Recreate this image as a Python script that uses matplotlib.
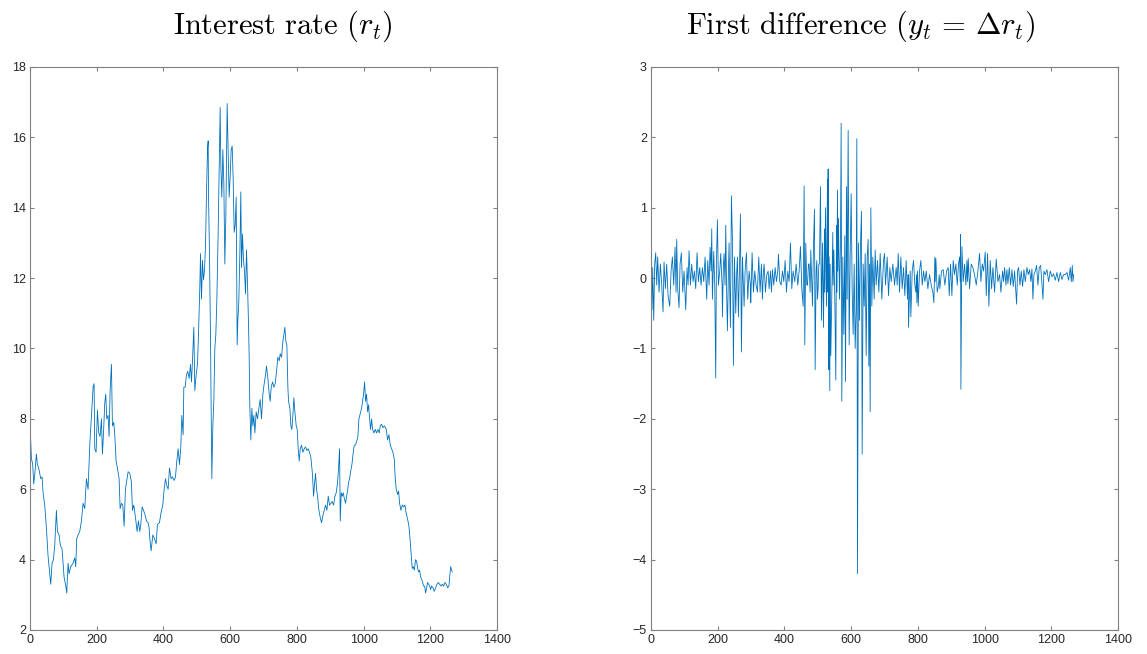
import matplotlib
matplotlib.use("Agg")
import matplotlib.pyplot as plt

plt.rcParams["mathtext.fontset"] = "cm"
plt.rcParams["font.family"] = ["Liberation Sans", "DejaVu Sans"]

LINE = "#0072BD"
AXIS = "#808080"
TEXT = "#262626"

# (t, r_t)
rate_obs = [
    (0, 7.86), (4, 6.88), (8, 6.7), (11, 6.15), (14, 6.4), (19, 7.0), (22, 6.7), (26, 6.6),
    (32, 6.3), (36, 6.35), (39, 5.9), (44, 5.55), (49, 4.9), (54, 4.1), (59, 3.6), (62, 3.3),
    (66, 3.9), (70, 4.0), (74, 4.4), (79, 5.4), (82, 4.8), (87, 4.7), (91, 4.4), (96, 4.3),
    (102, 3.5), (107, 3.26), (110, 3.05), (114, 3.9), (117, 3.6), (122, 3.8), (129, 3.9),
    (134, 4.05), (137, 3.8), (140, 4.6), (144, 4.7), (149, 4.8), (154, 5.1), (159, 5.6),
    (164, 5.45), (169, 6.3), (174, 6.0), (179, 7.25), (184, 8.1), (189, 8.9), (192, 9.0),
    (194, 7.15), (198, 7.05), (202, 8.25), (206, 7.6), (210, 7.5), (214, 8.0), (217, 7.0),
    (220, 7.55), (224, 8.45), (227, 8.7), (230, 8.0), (234, 8.1), (237, 7.5), (240, 8.8),
    (244, 9.55), (247, 7.8), (251, 7.9), (254, 7.55), (258, 6.8), (262, 6.6), (267, 6.3),
    (270, 5.45), (274, 5.6), (278, 5.55), (282, 4.95), (286, 6.0), (290, 6.25), (294, 6.5),
    (299, 6.45), (304, 6.2), (307, 5.4), (311, 5.55), (316, 5.2), (321, 4.8), (325, 5.1),
    (329, 4.8), (332, 5.0), (336, 5.5), (340, 5.4), (344, 5.3), (349, 5.1), (354, 5.05),
    (357, 4.9), (360, 4.5), (363, 4.25), (368, 4.7), (373, 4.6), (378, 4.45), (382, 5.0),
    (388, 5.05), (393, 5.35), (398, 5.55), (402, 6.0), (406, 6.3), (410, 6.1), (414, 6.0),
    (418, 6.6), (423, 6.3), (427, 6.35), (432, 6.25), (436, 6.35), (440, 6.8), (444, 7.15),
    (448, 6.7), (452, 7.2), (455, 8.1), (459, 7.55), (461, 8.9), (465, 8.9), (469, 9.25),
    (473, 9.35), (477, 9.15), (481, 9.55), (484, 9.05), (487, 9.65), (491, 10.6), (494, 8.8),
    (498, 9.25), (502, 9.55), (505, 10.4), (509, 11.75), (511, 12.7), (514, 11.4), (517, 12.5),
    (520, 11.95), (523, 12.2), (526, 12.9), (529, 14.4), (532, 15.65), (534, 15.9), (535, 14.4),
    (538, 12.7), (541, 10.3), (545, 6.3), (548, 7.8), (551, 8.5), (554, 10.0), (557, 10.4),
    (560, 11.35), (564, 13.3), (567, 15.0), (570, 16.85), (572, 15.2), (575, 14.3), (578, 15.65),
    (581, 14.7), (584, 12.4), (587, 13.75), (591, 16.96), (594, 15.55), (597, 14.3), (600, 14.9),
    (603, 15.65), (606, 15.75), (609, 14.8), (612, 13.3), (615, 13.5), (618, 14.3), (621, 10.1),
    (623, 10.8), (626, 11.35), (629, 12.7), (632, 14.45), (634, 12.3), (637, 13.25), (640, 12.5),
    (643, 12.2), (646, 11.55), (649, 12.8), (652, 11.85), (655, 10.7), (657, 9.75), (659, 8.3),
    (662, 7.4), (665, 8.3), (668, 7.8), (671, 8.1), (674, 7.6), (678, 8.2), (682, 8.0),
    (686, 8.3), (690, 8.55), (694, 8.0), (698, 8.7), (702, 9.0), (706, 9.25), (709, 9.5),
    (713, 9.15), (717, 8.7), (720, 8.5), (723, 8.9), (727, 9.05), (731, 8.9), (735, 9.0),
    (739, 9.35), (743, 9.75), (747, 9.65), (750, 9.85), (754, 9.75), (758, 10.2), (761, 10.4),
    (764, 10.6), (767, 10.2), (770, 10.1), (773, 8.9), (775, 8.5), (779, 8.3), (782, 7.8),
    (785, 7.7), (788, 8.1), (791, 8.6), (794, 8.2), (798, 7.8), (801, 7.7), (804, 7.15),
    (807, 6.8), (810, 7.15), (814, 7.25), (818, 7.05), (822, 7.15), (826, 7.2), (830, 7.1),
    (834, 7.15), (838, 7.05), (842, 6.9), (846, 6.5), (848, 6.2), (850, 5.8), (853, 6.15),
    (856, 6.45), (859, 6.0), (862, 5.8), (866, 5.4), (870, 5.2), (874, 5.05), (878, 5.25),
    (882, 5.4), (886, 5.55), (890, 5.4), (894, 5.8), (898, 5.55), (902, 5.6), (906, 5.65),
    (910, 5.55), (914, 5.8), (918, 5.9), (922, 6.2), (925, 6.6), (928, 7.15), (930, 5.1),
    (933, 5.9), (936, 5.8), (939, 5.9), (942, 5.75), (946, 5.6), (949, 5.8), (952, 5.95),
    (955, 6.2), (958, 6.3), (961, 6.5), (965, 6.7), (969, 7.05), (972, 7.25), (975, 7.25),
    (979, 7.35), (983, 7.5), (986, 8.0), (990, 8.15), (994, 8.3), (997, 8.5), (1000, 8.7),
    (1003, 9.05), (1006, 8.5), (1009, 8.7), (1012, 8.2), (1015, 8.4), (1018, 8.0), (1021, 7.7),
    (1024, 8.0), (1027, 7.7), (1031, 7.6), (1035, 7.7), (1039, 7.6), (1043, 7.7), (1047, 7.6),
    (1050, 7.8), (1054, 7.85), (1058, 7.75), (1062, 7.8), (1066, 7.75), (1068, 7.7), (1072, 7.4),
    (1076, 7.55), (1080, 7.25), (1084, 7.15), (1088, 7.05), (1092, 6.85), (1095, 6.3), (1098, 6.0),
    (1102, 5.85), (1105, 5.95), (1108, 5.6), (1112, 5.4), (1116, 5.55), (1120, 5.5), (1124, 5.55),
    (1128, 5.3), (1132, 5.15), (1136, 4.95), (1140, 4.5), (1143, 4.1), (1146, 3.75), (1149, 3.8),
    (1152, 3.7), (1156, 4.0), (1159, 3.95), (1162, 3.75), (1165, 3.65), (1168, 3.7), (1171, 3.5),
    (1174, 3.45), (1177, 3.35), (1180, 3.25), (1183, 3.25), (1186, 3.05), (1189, 3.2), (1192, 3.35),
    (1195, 3.3), (1198, 3.25), (1201, 3.15), (1204, 3.25), (1208, 3.2), (1212, 3.1), (1216, 3.2),
    (1220, 3.3), (1224, 3.35), (1228, 3.3), (1232, 3.25), (1236, 3.3), (1240, 3.25), (1244, 3.35),
    (1248, 3.3), (1252, 3.2), (1256, 3.25), (1258, 3.5), (1261, 3.8), (1264, 3.7), (1266, 3.65),
]

# (t, y_t)
diff_obs = [
    (0, 0.0), (3, -0.45), (5, 0.15), (8, -0.6), (11, 0.2), (14, 0.36), (17, -0.1), (20, 0.3),
    (24, -0.2), (28, 0.2), (32, -0.1), (36, -0.48), (39, 0.23), (43, -0.15), (47, 0.2),
    (51, -0.25), (56, -0.4), (60, 0.1), (64, 0.3), (68, -0.1), (72, 0.44), (75, -0.2), (77, 0.55),
    (80, -0.15), (84, -0.42), (87, 0.2), (91, 0.36), (95, -0.2), (99, 0.1), (104, -0.45),
    (108, 0.15), (111, -0.1), (114, 0.39), (118, -0.1), (122, 0.2), (126, -0.05), (130, 0.1),
    (134, -0.15), (138, 0.36), (142, -0.05), (146, 0.15), (150, -0.1), (154, 0.15), (158, -0.05),
    (162, 0.3), (167, -0.3), (170, 0.25), (174, -0.1), (177, 0.44), (180, 0.1), (182, 0.7),
    (184, -0.3), (188, 0.38), (191, -0.1), (194, -1.42), (196, 0.2), (199, 0.83), (202, -0.1),
    (206, 0.1), (209, 0.35), (213, -0.1), (214, -0.55), (217, 0.2), (219, 0.35), (222, -0.1),
    (224, 0.75), (227, -0.3), (229, -0.75), (232, 0.1), (234, 0.5), (236, -0.2), (238, -0.7),
    (241, 1.17), (244, 0.55), (247, -1.24), (250, 0.3), (252, -0.1), (254, -0.5), (257, 0.1),
    (259, 0.3), (262, -0.55), (265, 0.1), (268, 0.91), (271, -1.05), (274, 0.3), (277, -0.1),
    (279, -0.4), (282, 0.1), (286, 0.36), (290, -0.3), (294, 0.1), (298, -0.1), (299, -0.35),
    (303, 0.36), (307, -0.2), (311, 0.1), (315, -0.1), (319, -0.2), (323, 0.3), (327, -0.2),
    (331, 0.2), (334, -0.3), (337, 0.1), (339, 0.2), (343, -0.2), (347, 0.05), (351, 0.1),
    (354, -0.15), (358, 0.1), (361, -0.2), (364, 0.12), (368, -0.1), (372, 0.15), (376, -0.05),
    (380, 0.1), (382, 0.34), (386, -0.05), (390, -0.1), (394, 0.1), (398, -0.05), (402, 0.25),
    (406, -0.2), (410, 0.1), (414, -0.05), (418, 0.5), (422, -0.15), (426, 0.1), (431, -0.05),
    (435, 0.2), (440, -0.1), (444, 0.1), (448, 0.45), (452, -0.15), (456, -0.4), (459, 1.31),
    (461, -0.95), (464, 0.5), (467, -0.1), (469, -0.1), (472, 0.2), (474, 0.2), (477, -0.2),
    (479, 0.4), (482, -0.1), (484, -0.4), (487, 0.45), (490, 0.98), (492, -1.3), (495, 0.1),
    (497, 0.25), (499, -0.3), (501, -0.15), (503, 0.2), (505, 0.2), (508, 1.3), (511, -0.6),
    (514, 0.5), (517, -0.7), (520, 0.7), (521, -0.2), (523, 1.0), (526, -0.4), (529, 1.4),
    (530, -0.2), (531, 1.55), (533, -1.3), (534, 0.3), (536, -1.6), (537, 0.2), (539, -1.1),
    (542, -0.2), (545, 0.65), (546, -0.1), (548, 0.4), (551, -0.3), (554, -1.45), (556, 0.75),
    (557, -0.2), (559, 1.25), (560, 0.1), (562, 0.85), (565, -0.3), (568, 0.5), (570, 2.2),
    (572, -1.75), (575, 0.3), (578, -0.8), (581, 0.6), (583, -1.47), (586, 1.3), (588, -0.3),
    (591, 2.1), (594, -0.95), (597, 0.3), (600, 1.2), (603, -0.15), (606, -0.8), (609, 0.2),
    (612, -1.0), (615, -0.45), (617, 1.98), (619, -4.2), (622, 0.5), (625, -0.6), (628, 0.5),
    (631, 0.95), (633, -2.5), (636, 0.2), (639, -0.4), (642, 0.35), (645, -1.1), (648, 0.3),
    (651, 0.55), (653, -1.25), (655, 0.2), (657, -1.9), (659, 1.0), (662, -0.4), (665, 0.3),
    (669, -0.3), (672, 0.4), (675, -0.1), (679, 0.25), (683, -0.2), (687, 0.35), (692, -0.3),
    (697, 0.25), (700, 0.35), (703, -0.1), (708, 0.3), (712, -0.25), (716, 0.15), (720, -0.05),
    (725, 0.2), (730, -0.1), (735, 0.15), (738, -0.1), (741, 0.35), (745, -0.2), (749, 0.3),
    (753, -0.15), (757, 0.15), (761, -0.25), (765, 0.25), (769, -0.3), (771, 0.05), (772, -0.7),
    (775, -0.2), (777, 0.1), (779, -0.55), (783, 0.1), (787, 0.25), (791, -0.1), (794, -0.2),
    (796, 0.05), (797, -0.35), (799, 0.1), (801, -0.4), (805, 0.1), (809, 0.25), (813, -0.1),
    (817, 0.1), (821, -0.05), (825, 0.1), (830, -0.15), (835, 0.05), (840, -0.1), (845, -0.2),
    (848, -0.35), (851, 0.3), (852, -0.05), (854, 0.28), (858, -0.2), (862, -0.1), (864, 0.05),
    (866, -0.15), (871, 0.1), (876, 0.12), (881, -0.1), (886, 0.1), (891, 0.15), (894, -0.25),
    (898, 0.2), (902, -0.25), (906, 0.25), (910, 0.05), (914, 0.2), (918, -0.1), (922, 0.2),
    (925, 0.3), (927, -0.05), (928, 0.62), (929, -1.58), (932, 0.45), (936, -0.05), (940, 0.2),
    (944, -0.1), (947, 0.25), (949, -0.05), (951, 0.28), (955, -0.15), (960, 0.2), (965, 0.15),
    (970, 0.05), (975, -0.1), (980, 0.1), (985, 0.35), (989, -0.05), (993, 0.2), (997, 0.1),
    (1002, 0.37), (1005, -0.25), (1009, 0.35), (1013, -0.4), (1017, 0.25), (1021, -0.15),
    (1025, 0.15), (1030, -0.2), (1035, 0.27), (1040, -0.05), (1045, 0.05), (1049, -0.2),
    (1054, 0.1), (1057, -0.05), (1060, 0.15), (1064, -0.1), (1067, 0.12), (1070, -0.08),
    (1074, 0.15), (1078, -0.1), (1082, 0.12), (1086, -0.12), (1090, 0.1), (1094, -0.2),
    (1096, -0.37), (1099, 0.1), (1102, 0.15), (1106, -0.1), (1110, 0.1), (1114, -0.12),
    (1118, 0.12), (1122, -0.05), (1127, 0.15), (1131, 0.05), (1135, 0.12), (1139, -0.05),
    (1142, 0.13), (1145, -0.3), (1148, 0.05), (1152, 0.1), (1156, 0.18), (1160, -0.1),
    (1164, 0.15), (1168, 0.18), (1172, -0.08), (1175, -0.3), (1178, 0.1), (1182, 0.05),
    (1187, 0.12), (1192, -0.05), (1197, 0.1), (1202, 0.02), (1207, 0.06), (1212, -0.03),
    (1217, 0.08), (1222, -0.05), (1227, 0.08), (1232, -0.02), (1237, 0.05), (1242, 0.05),
    (1247, 0.08), (1252, -0.03), (1257, 0.15), (1260, -0.05), (1263, 0.18), (1265, -0.05),
    (1267, 0.05),
]

x_ticks = [0, 200, 400, 600, 800, 1000, 1200, 1400]
rate_ticks = [2, 4, 6, 8, 10, 12, 14, 16, 18]
diff_ticks = [-5, -4, -3, -2, -1, 0, 1, 2, 3]

titles = [
    r"$\mathrm{Interest\ rate}\ (r_t)$",
    r"$\mathrm{First\ difference}\ (y_t\,=\,\Delta r_t)$",
]


def _style(ax, yticks, title, title_x):
    ax.set_xlim(0, 1400)
    ax.set_ylim(yticks[0], yticks[-1])
    ax.set_xticks(x_ticks)
    ax.set_yticks(yticks)
    ax.tick_params(direction="in", top=True, right=True, length=3, width=0.8,
                   colors=AXIS, labelcolor=TEXT, labelsize=9, pad=3)
    for sp in ax.spines.values():
        sp.set_color(AXIS)
        sp.set_linewidth(0.8)
    # the reference titles sit a little off the axes centre
    ax.set_title(title, fontsize=22, color="black", pad=24, x=title_x)


fig = plt.figure(figsize=(11.47, 6.54), dpi=100)
ax1 = fig.add_axes([0.0262, 0.0367, 0.4071, 0.8609])
ax2 = fig.add_axes([0.5676, 0.0367, 0.4071, 0.8609])

t_r, r = zip(*rate_obs)
ax1.plot(t_r, r, color=LINE, linewidth=0.6)
_style(ax1, rate_ticks, titles[0], 0.542)

t_d, d = zip(*diff_obs)
ax2.plot(t_d, d, color=LINE, linewidth=0.6)
_style(ax2, diff_ticks, titles[1], 0.449)

fig.savefig("out.png", dpi=100, facecolor="white")
